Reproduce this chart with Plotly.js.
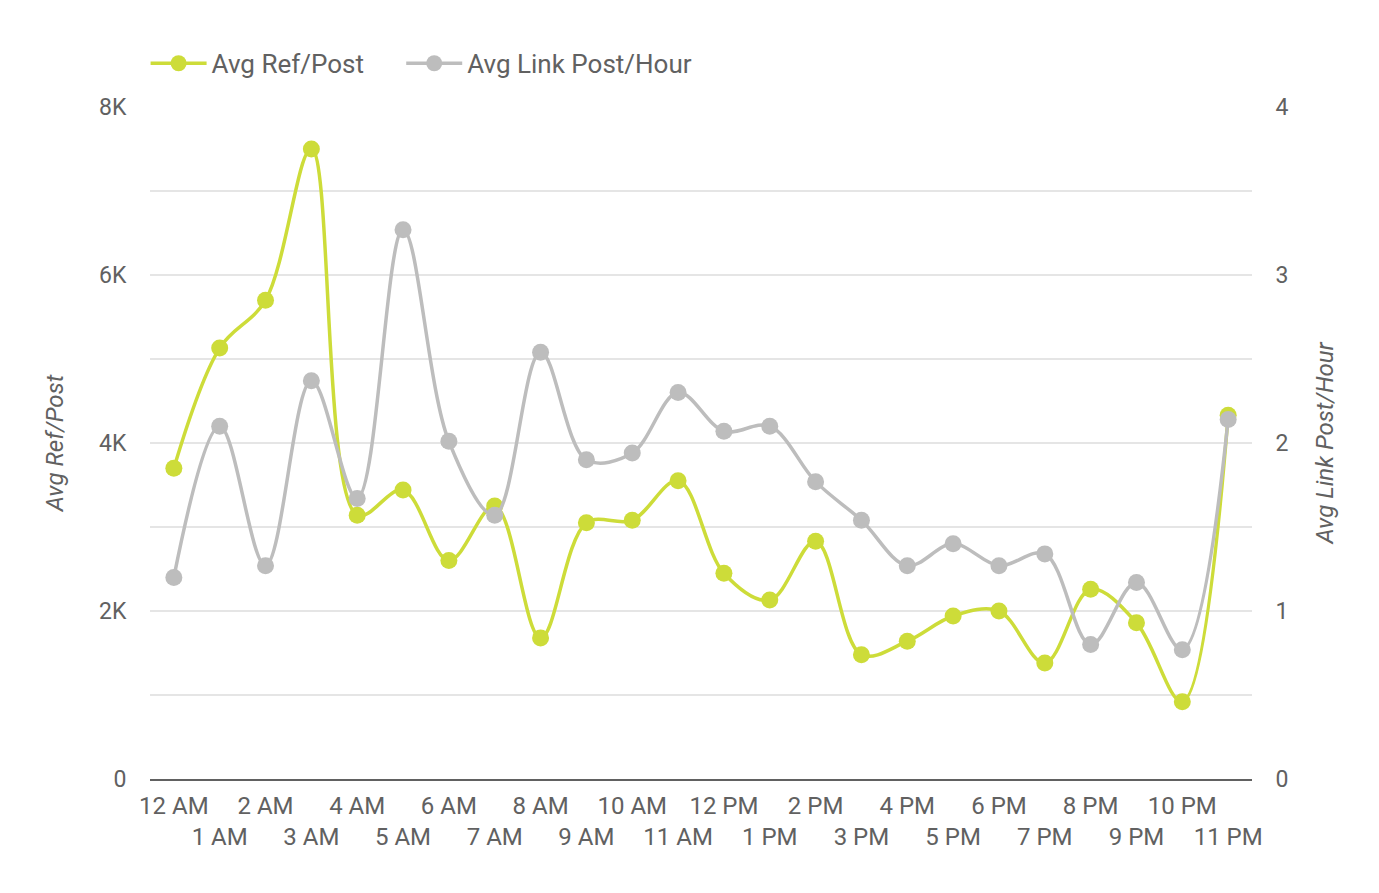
<!DOCTYPE html>
<html><head><meta charset="utf-8">
<script src="https://cdn.plot.ly/plotly-3.0.1.min.js"></script>
<style>html,body{margin:0;padding:0;background:#fff}#chart{width:1379px;height:893px}</style>
</head><body><div id="chart"></div>
<script>
const hours = ["12 AM","1 AM","2 AM","3 AM","4 AM","5 AM","6 AM","7 AM","8 AM","9 AM","10 AM","11 AM",
  "12 PM","1 PM","2 PM","3 PM","4 PM","5 PM","6 PM","7 PM","8 PM","9 PM","10 PM","11 PM"];
const avgRefPost = [3700,5130,5700,7500,3140,3440,2600,3250,1680,3050,3080,3550,
  2450,2130,2830,1480,1640,1940,2000,1380,2260,1860,920,4330];
const avgLinkPostHour = [1.20,2.10,1.27,2.37,1.67,3.27,2.01,1.57,2.54,1.90,1.94,2.30,
  2.07,2.10,1.77,1.54,1.27,1.40,1.27,1.34,0.80,1.17,0.77,2.14];
const tickLabels = hours.map((h,i)=> i%2===0 ? h : "<br>"+h);
const seriesNames = ["Avg Ref/Post", "Avg Link Post/Hour"];

const green = "#cddc39", gray = "#bdbdbd", txt = "#616161";
const pad = "\u00a0".repeat(5);
const traces = [
  {x: hours, y: avgRefPost, name: seriesNames[0] + pad, type: "scatter", mode: "lines+markers",
   line: {color: green, width: 3.5, shape: "spline", smoothing: 1}, marker: {color: green, size: 17}, yaxis: "y"},
  {x: hours, y: avgLinkPostHour, name: seriesNames[1], type: "scatter", mode: "lines+markers",
   line: {color: gray, width: 3.5, shape: "spline", smoothing: 1}, marker: {color: gray, size: 17}, yaxis: "y2"}
];
const layout = {
  width: 1379, height: 893,
  margin: {l: 150, r: 127, t: 107, b: 114},
  paper_bgcolor: "#fff", plot_bgcolor: "#fff",
  font: {family: "Roboto, sans-serif", size: 24, color: txt},
  showlegend: true,
  legend: {orientation: "h", x: -0.004, xanchor: "left", y: 1.065, yanchor: "middle",
    font: {size: 26, color: txt}, itemwidth: 56},
  xaxis: {type: "category", range: [-0.52, 23.52], tickmode: "array", tickvals: hours, ticktext: tickLabels,
    showgrid: false, showline: true, linecolor: "#616161", linewidth: 2, zeroline: false,
    ticks: "outside", ticklen: 4, tickcolor: "rgba(0,0,0,0)", tickfont: {size: 24, color: txt}, tickangle: 0},
  yaxis: {range: [0, 8000], tickvals: [0,2000,4000,6000,8000], ticktext: ["0","2K","4K","6K","8K"],
    showgrid: true, gridcolor: "#e5e5e5", gridwidth: 1.5, zeroline: false, showline: false,
    minor: {tickvals: [1000,3000,5000,7000], showgrid: true, gridcolor: "#e5e5e5", gridwidth: 1.5},
    ticks: "outside", ticklen: 18, tickcolor: "rgba(0,0,0,0)", tickfont: {size: 23, color: txt},
    title: {text: "<i>Avg Ref/Post</i>", font: {size: 24, color: txt}, standoff: 28}},
  yaxis2: {overlaying: "y", side: "right", range: [0, 4], tickvals: [0,1,2,3,4], ticktext: ["0","1","2","3","4"],
    showgrid: false, zeroline: false, showline: false, ticks: "outside", ticklen: 18, tickcolor: "rgba(0,0,0,0)",
    tickfont: {size: 23, color: txt},
    title: {text: "<i>Avg Link Post/Hour</i>", font: {size: 24, color: txt}, standoff: 28}}
};
Plotly.newPlot("chart", traces, layout, {displayModeBar: false, staticPlot: true});
</script></body></html>
